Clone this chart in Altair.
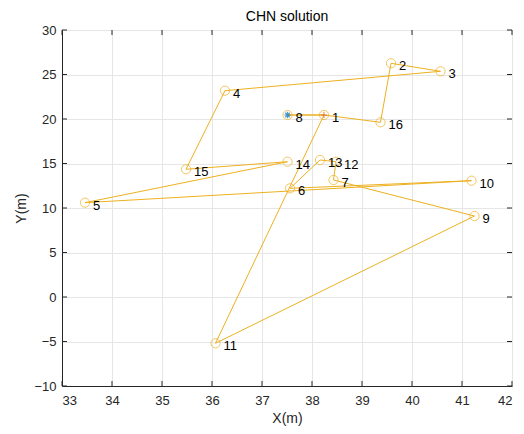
import altair as alt
import pandas as pd

# Node coordinates (metres), indexed by node number
node_ids = list(range(1, 17))
node_x = [38.24, 39.58, 40.57, 36.26, 33.46, 37.56, 38.43, 37.51,
          41.25, 41.19, 36.07, 38.48, 38.16, 37.51, 35.48, 39.37]
node_y = [20.45, 26.26, 25.36, 23.18, 10.60, 12.21, 13.15, 20.45,
          9.10, 13.07, -5.20, 15.20, 15.39, 15.20, 14.35, 19.63]

# Visiting order of the route
route = [8, 1, 16, 2, 3, 4, 15, 14, 5, 10, 6, 13, 12, 7, 9, 11, 1, 8]

start_node = 8
end_node = 1

x_ticks = list(range(33, 43))
y_ticks = list(range(-10, 31, 5))

ORANGE = "#EDB120"
BLUE = "#0072BD"
RED = "#D95319"
AX = "#262626"
FONT = "Liberation Sans"

nodes = pd.DataFrame({"id": node_ids, "x": node_x, "y": node_y})
nodes["label"] = nodes["id"].astype(str)
path = pd.DataFrame({
    "step": list(range(len(route))),
    "x": [node_x[i - 1] for i in route],
    "y": [node_y[i - 1] for i in route],
})

xs = alt.Scale(domain=[33, 42], nice=False, zero=False)
ys = alt.Scale(domain=[-10, 30], nice=False, zero=False)

W, H = 450, 356

xaxis = alt.Axis(values=x_ticks, grid=True, gridColor="#e6e6e6", tickSize=0,
                 labelPadding=8, labelFontSize=13, labelColor=AX, labelFont=FONT,
                 title="X(m)", titleFontSize=14, titleFontWeight="normal",
                 titleColor=AX, titleFont=FONT, titlePadding=4,
                 domainColor=AX)
yaxis = alt.Axis(values=y_ticks, grid=True, gridColor="#e6e6e6", tickSize=0,
                 labelPadding=6, labelFontSize=13, labelColor=AX, labelFont=FONT,
                 title="Y(m)", titleFontSize=14, titleFontWeight="normal",
                 titleColor=AX, titleFont=FONT, titlePadding=5,
                 domainColor=AX)

base = alt.Chart(path)

line = base.mark_line(color=ORANGE, strokeWidth=1, clip=True).encode(
    x=alt.X("x:Q", scale=xs, axis=xaxis),
    y=alt.Y("y:Q", scale=ys, axis=yaxis),
    order="step:Q",
)

pts = alt.Chart(nodes).mark_point(shape="circle", filled=False, color=ORANGE,
                                  size=85, strokeWidth=1).encode(
    x=alt.X("x:Q", scale=xs), y=alt.Y("y:Q", scale=ys))

labels = alt.Chart(nodes).mark_text(align="left", baseline="middle", dx=8, dy=3,
                                    fontSize=13, font=FONT, color="black").encode(
    x=alt.X("x:Q", scale=xs), y=alt.Y("y:Q", scale=ys), text="label:N")

start = alt.Chart(nodes[nodes["id"] == start_node]).mark_point(
    shape="M-1,0L1,0M0,-1L0,1M-0.7,-0.7L0.7,0.7M-0.7,0.7L0.7,-0.7",
    filled=False, color=BLUE, size=40, strokeWidth=1.2).encode(
    x=alt.X("x:Q", scale=xs), y=alt.Y("y:Q", scale=ys))

end = alt.Chart(nodes[nodes["id"] == end_node]).mark_point(
    shape="M-1,0L1,0M0,-1L0,1", filled=False, color=RED, size=40,
    strokeWidth=1).encode(
    x=alt.X("x:Q", scale=xs), y=alt.Y("y:Q", scale=ys))

# Inward-pointing tick marks on all four sides of the box
xt = pd.DataFrame({"v": x_ticks})
yt = pd.DataFrame({"v": y_ticks})
tick_style = dict(color=AX, strokeWidth=1)
t_bottom = alt.Chart(xt).mark_rule(**tick_style).encode(
    x=alt.X("v:Q", scale=xs), y=alt.value(H), y2=alt.value(H - 5))
t_top = alt.Chart(xt).mark_rule(**tick_style).encode(
    x=alt.X("v:Q", scale=xs), y=alt.value(0), y2=alt.value(5))
t_left = alt.Chart(yt).mark_rule(**tick_style).encode(
    y=alt.Y("v:Q", scale=ys), x=alt.value(0), x2=alt.value(5))
t_right = alt.Chart(yt).mark_rule(**tick_style).encode(
    y=alt.Y("v:Q", scale=ys), x=alt.value(W), x2=alt.value(W - 5))

chart = alt.layer(line, pts, start, end, labels,
                  t_bottom, t_top, t_left, t_right).properties(
    width=W, height=H,
    title=alt.TitleParams("CHN solution", fontSize=14, fontWeight="normal",
                          font=FONT, color="black", offset=0),
    autosize=alt.AutoSizeParams(type="none"),
    padding={"left": 62, "top": 30, "right": 12, "bottom": 48},
).configure_view(stroke=AX, strokeWidth=1).configure(background="white")

chart.save("out.html", embed_options={"renderer": "svg", "actions": False})
